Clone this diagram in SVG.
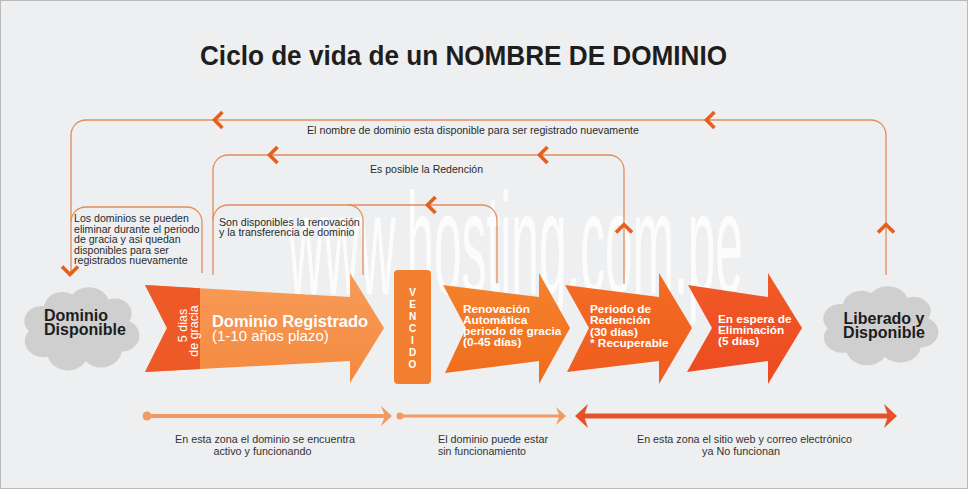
<svg xmlns="http://www.w3.org/2000/svg" width="968" height="489" viewBox="0 0 968 489">
<defs>
<style>
.t{font-family:"Liberation Sans",Arial,Helvetica,sans-serif}
.ln{fill:none;stroke:#e38d5e;stroke-width:1.3}
.chev{fill:none;stroke:#e5601c;stroke-width:3.6;stroke-linejoin:miter;stroke-miterlimit:6}
.lbl{font-size:10.6px;fill:#2b2b2b}
.bot{font-size:11px;fill:#333}
.wt{fill:#fff;font-weight:bold;font-size:11.8px}
.cloud{fill:#cfcfcf}
.ctx{fill:#1c1c1c;font-weight:bold;font-size:16px}
.vc{fill:#fff;font-weight:bold;font-size:10px;text-anchor:middle}
</style>
<path id="cloudShape" d="M-38,-26 A20 20 0 0 1 -8,-40 A22 22 0 0 1 30,-34 A18 18 0 0 1 52,-8 A19 19 0 0 1 44,28 A22 22 0 0 1 6,40 A22 22 0 0 1 -34,34 A19 19 0 0 1 -54,4 A18 18 0 0 1 -38,-26 Z"/>
<path id="chL" d="M8,-8 L0,0 L8,8"/>
<linearGradient id="g1" x1="0" y1="0" x2="0" y2="1"><stop offset="0" stop-color="#f89c58"/><stop offset="1" stop-color="#f4893f"/></linearGradient>
<linearGradient id="g2" x1="0" y1="0" x2="0" y2="1"><stop offset="0" stop-color="#f5832d"/><stop offset="1" stop-color="#ef6c1d"/></linearGradient>
<linearGradient id="g3" x1="0" y1="0" x2="0" y2="1"><stop offset="0" stop-color="#f36d24"/><stop offset="1" stop-color="#ef5c20"/></linearGradient>
<linearGradient id="g4" x1="0" y1="0" x2="0" y2="1"><stop offset="0" stop-color="#f15a27"/><stop offset="1" stop-color="#ec4a21"/></linearGradient>
</defs>

<rect x="0.5" y="0.5" width="967" height="488" fill="#eeeff0" stroke="#b9b9b9" stroke-width="1"/>

<text class="t" x="200" y="65" font-size="28" font-weight="bold" fill="#1e1e1e" textLength="527" lengthAdjust="spacingAndGlyphs">Ciclo de vida de un NOMBRE DE DOMINIO</text>

<text class="t" font-size="145" fill="#ffffff" opacity="0.85" transform="translate(288,294) scale(0.34,1)" textLength="1338" lengthAdjust="spacingAndGlyphs">www.hosting.com.pe</text>

<g id="connectors">
  <path class="ln" d="M71,274 V135 A15 15 0 0 1 86,120 H871 A15 15 0 0 1 886,135 V275"/>
  <path class="ln" d="M213,275 V170 A15 15 0 0 1 228,155 H609 A15 15 0 0 1 624,170 V284"/>
  <path class="ln" d="M213,220 A15 15 0 0 1 228,205 H482 A15 15 0 0 1 497,220 V283"/>
  <path class="ln" d="M348,205 A15 15 0 0 1 363,220 V275"/>
  <path class="ln" d="M71,222 A15 15 0 0 1 86,207 H187 A15 15 0 0 1 202,222 V273"/>
  <use href="#chL" class="chev" transform="translate(214.5,120)"/>
  <use href="#chL" class="chev" transform="translate(706.5,120)"/>
  <use href="#chL" class="chev" transform="translate(269.5,155)"/>
  <use href="#chL" class="chev" transform="translate(539.5,155)"/>
  <use href="#chL" class="chev" transform="translate(427.5,205)"/>
  <use href="#chL" class="chev" transform="translate(70,274.5) rotate(-90)"/>
  <use href="#chL" class="chev" transform="translate(886,224.5) rotate(90)"/>
  <use href="#chL" class="chev" transform="translate(624,224.5) rotate(90)"/>
  <text class="t lbl" x="307" y="134" textLength="332" lengthAdjust="spacingAndGlyphs">El nombre de dominio esta disponible para ser registrado nuevamente</text>
  <text class="t lbl" x="370" y="173" textLength="113" lengthAdjust="spacingAndGlyphs">Es posible la Redención</text>
  <text class="t lbl" x="74" y="222">Los dominios se pueden</text>
  <text class="t lbl" x="74" y="232.5">eliminar durante el periodo</text>
  <text class="t lbl" x="74" y="243">de gracia y asi quedan</text>
  <text class="t lbl" x="74" y="253.5">disponibles para ser</text>
  <text class="t lbl" x="74" y="264">registrados nuevamente</text>
  <text class="t lbl" x="219" y="225.5">Son disponibles la renovación</text>
  <text class="t lbl" x="219" y="236">y la transferencia de dominio</text>
</g>

<g id="dominio-disponible">
  <use href="#cloudShape" class="cloud" transform="translate(80,328) scale(0.95,0.84)"/>
  <text class="t ctx" x="44" y="321">Dominio</text>
  <text class="t ctx" x="44" y="335">Disponible</text>
</g>

<g id="dominio-registrado">
  <path fill="url(#g1)" d="M145,285 L350,297 L350,273 L384,328 L350,383 L350,361 L145,372 L167,328 Z"/>
  <path fill="#ee5a27" d="M145,285 L200,288.2 L200,369 L145,372 L167,328 Z"/>
  <text class="t" fill="#fff" font-size="12.5" text-anchor="middle" transform="translate(187,325.5) rotate(-90)">5 dias</text>
  <text class="t" fill="#fff" font-size="12.5" text-anchor="middle" transform="translate(198,331) rotate(-90)">de gracia</text>
  <text class="t" fill="#fff" font-weight="bold" font-size="16" x="212" y="327" textLength="156" lengthAdjust="spacingAndGlyphs">Dominio Registrado</text>
  <text class="t" fill="#fff" font-size="15" x="212" y="341">(1-10 años plazo)</text>
</g>

<g id="vencido">
  <rect x="394" y="270" width="37" height="114" rx="4" fill="#f27f30"/>
  <text class="t vc" x="412.5" y="296">V</text>
  <text class="t vc" x="412.5" y="308">E</text>
  <text class="t vc" x="412.5" y="320">N</text>
  <text class="t vc" x="412.5" y="332">C</text>
  <text class="t vc" x="412.5" y="344">I</text>
  <text class="t vc" x="412.5" y="356">D</text>
  <text class="t vc" x="412.5" y="368">O</text>
</g>

<g id="renovacion">
  <path fill="url(#g2)" d="M443,285 L539,297 L539,273 L570,328 L539,384 L539,361 L445,373 L466,328 Z"/>
  <text class="t wt" x="463" y="313">Renovación</text>
  <text class="t wt" x="463" y="324">Automática</text>
  <text class="t wt" x="463" y="335">periodo de gracia</text>
  <text class="t wt" x="463" y="346">(0-45 días)</text>
</g>

<g id="redencion">
  <path fill="url(#g3)" d="M565,285 L659,297 L659,273 L692,328 L659,384 L659,361 L567,372 L589,328 Z"/>
  <text class="t wt" x="590" y="313">Periodo de</text>
  <text class="t wt" x="590" y="324">Redención</text>
  <text class="t wt" x="590" y="336">(30 días)</text>
  <text class="t wt" x="590" y="347">* Recuperable</text>
</g>

<g id="espera">
  <path fill="url(#g4)" d="M688,285 L768,297 L768,273 L802,328 L768,384 L768,361 L687,372 L712,328 Z"/>
  <text class="t wt" x="718" y="323">En espera de</text>
  <text class="t wt" x="718" y="334">Eliminación</text>
  <text class="t wt" x="718" y="345">(5 días)</text>
</g>

<g id="liberado">
  <use href="#cloudShape" class="cloud" transform="translate(879,325) scale(0.95,0.8)"/>
  <text class="t ctx" x="884" y="324" text-anchor="middle">Liberado y</text>
  <text class="t ctx" x="884" y="338" text-anchor="middle">Disponible</text>
</g>

<g id="timeline">
  <circle cx="147" cy="416" r="4.5" fill="#f29a62"/>
  <line x1="147" y1="416" x2="387" y2="416" stroke="#f29a62" stroke-width="4"/>
  <path d="M392,416 L381,406 L385,416 L381,426 Z" fill="#f29a62"/>
  <circle cx="400" cy="416" r="3.5" fill="#f29a62"/>
  <line x1="400" y1="416" x2="561" y2="416" stroke="#f29a62" stroke-width="3"/>
  <path d="M566,416 L556,407 L559.5,416 L556,425 Z" fill="#f29a62"/>
  <line x1="580" y1="416" x2="892" y2="416" stroke="#e5522a" stroke-width="5"/>
  <path d="M575,416 L588,404 L584,416 L588,428 Z" fill="#e5522a"/>
  <path d="M897,416 L884,404 L888,416 L884,428 Z" fill="#e5522a"/>
  <text class="t bot" x="175" y="443" textLength="180" lengthAdjust="spacingAndGlyphs">En esta zona el dominio se encuentra</text>
  <text class="t bot" x="213.5" y="455" textLength="98" lengthAdjust="spacingAndGlyphs">activo y funcionando</text>
  <text class="t bot" x="438" y="443" textLength="110" lengthAdjust="spacingAndGlyphs">El dominio puede estar</text>
  <text class="t bot" x="438" y="455" textLength="88" lengthAdjust="spacingAndGlyphs">sin funcionamiento</text>
  <text class="t bot" x="637" y="443" textLength="215" lengthAdjust="spacingAndGlyphs">En esta zona el sitio web y correo electrónico</text>
  <text class="t bot" x="702" y="455" textLength="78" lengthAdjust="spacingAndGlyphs">ya No funcionan</text>
</g>
</svg>
